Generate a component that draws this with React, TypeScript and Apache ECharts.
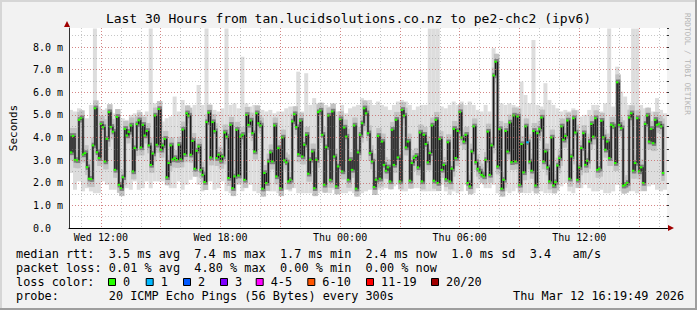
import React, { useEffect, useRef } from 'react';
import * as echarts from 'echarts';

// ---- time axis: 6-minute steps from Wed 10:24 to Thu 16:24 ----
const startMinute = 624; // minutes after Wed 00:00
const stepMinutes = 6;
const stepCount = 301;
const dayNames = ['Wed', 'Thu'];
const categories: string[] = Array.from({ length: stepCount }, (_, i) => String(startMinute + i * stepMinutes));

// ---- median rtt (ms), one value per 6-minute step ----
const medianRtt: number[] = [
  4.07, 3.34, 4.07, 3.01, 2.99, 4.78, 4.85, 3.25, 3.31, 2.69,
  2.18, 2.16, 3.65, 5.29, 3.35, 3.09, 4.60, 4.46, 2.94, 3.94,
  5.12, 4.47, 4.26, 2.57, 4.91, 1.91, 1.76, 2.24, 4.38, 4.09,
  4.25, 4.53, 2.50, 3.53, 4.59, 4.76, 3.56, 4.56, 4.09, 4.29,
  3.65, 2.79, 3.29, 4.97, 3.68, 5.26, 3.46, 3.65, 3.94, 2.24,
  2.87, 3.65, 3.03, 3.09, 3.01, 3.68, 3.03, 4.35, 3.26, 5.07,
  4.97, 3.24, 3.85, 2.62, 3.41, 3.60, 2.57, 2.35, 2.03, 4.68,
  5.10, 3.12, 4.68, 4.28, 3.09, 3.24,
  2.97, 3.16, 4.22, 4.04, 2.21, 4.56, 1.76, 2.28, 4.34, 2.32,
  4.04, 4.12, 2.13, 5.00, 4.56, 4.75, 4.19, 3.38, 5.07, 4.63,
  4.53, 1.74, 2.43, 1.99, 2.94, 3.34, 2.94, 4.53, 2.28, 3.53,
  1.76, 4.00, 2.99, 2.90, 2.06, 2.13, 4.71, 5.03, 4.46, 3.26,
  4.74, 3.16, 3.68, 4.12, 2.40, 3.01, 3.38, 1.76, 3.01, 5.12,
  5.19, 4.12, 1.91, 3.57, 4.97, 2.13, 5.15, 3.16, 1.84, 2.72,
  4.81, 2.50, 4.44, 4.04, 2.13, 3.01, 2.57, 4.53, 1.74, 3.34,
  4.12, 4.63, 5.29, 5.07, 4.19,
  3.31, 2.94, 1.81, 2.13, 4.07, 2.18, 3.82, 2.79, 2.53, 2.68,
  2.06, 4.34, 2.79, 4.78, 3.12, 2.06, 5.22, 4.97, 3.56, 3.82,
  2.09, 2.87, 3.09, 3.19, 2.68, 4.22, 2.06, 4.12, 3.71, 2.90,
  3.31, 4.53, 2.09, 4.78, 1.99, 3.93, 2.57, 2.79, 2.16, 3.79,
  2.06, 2.62, 4.38, 3.09, 4.29, 5.12, 4.00, 3.82, 4.12, 1.99,
  1.84, 3.38, 4.49, 2.91, 2.62, 2.50, 2.35, 2.28, 3.01, 4.26,
  2.35, 3.65, 6.74, 7.35, 2.72, 4.37, 1.74, 2.13, 4.29, 3.38,
  4.66, 2.91, 4.97, 2.94, 4.93,
  1.91, 3.71, 2.46, 4.49, 3.79, 2.94, 2.53, 4.29, 1.88, 4.19,
  4.38, 4.88, 2.94, 3.38, 2.68, 2.06, 4.00, 1.88, 2.03, 2.76,
  3.09, 4.49, 3.90, 4.07, 4.75, 2.18, 3.16, 4.85, 4.22, 2.13,
  2.68, 3.53, 4.19, 2.79, 2.97, 3.82, 4.60, 4.04, 4.85, 2.57,
  2.62, 4.74, 4.01, 3.46, 3.82, 3.09, 4.56, 4.49, 2.87, 6.44,
  4.56, 4.41, 1.87, 1.91, 1.99, 4.88, 5.07, 2.53, 2.87, 4.85,
  2.50, 2.68, 1.99, 4.60, 4.97, 3.82, 4.38, 3.75, 4.78, 4.56,
  4.60, 4.49, 2.43,
];

// steps where 1 of 20 pings was lost
const lossOneSteps: number[] = [230];

// ---- smoke extent (ms), one sample per 2 steps ----
const smokeStepsPerSample = 2;
const smokeHi: number[] = [
  5.22, 5.15, 5.29, 5.00, 4.85, 5.44, 8.82, 5.37, 5.22, 5.29,
  5.15, 5.07, 5.00, 4.85, 4.78, 5.00, 5.07, 5.22, 5.00, 5.15,
  8.82, 5.51, 5.00, 4.71, 4.85, 4.93, 5.81, 5.15, 5.66, 5.29,
  5.22, 5.44, 6.32, 5.44, 8.82, 5.44, 5.22, 5.15,
  5.29, 8.82, 5.44, 5.51, 5.29, 7.57, 5.51, 5.37, 5.44, 5.29,
  5.22, 5.15, 5.22, 5.07, 5.15, 5.15, 5.29, 5.37, 5.22, 6.91,
  5.15, 6.84, 5.44, 5.74, 5.51, 5.37, 5.44, 5.37, 5.29, 5.15,
  5.44, 5.07, 5.29, 5.37, 5.44, 5.74, 5.51, 5.66,
  5.44, 5.59, 5.44, 5.37, 5.22, 5.44, 5.59, 5.66, 5.59, 5.44,
  5.22, 5.37, 5.44, 5.44, 8.82, 8.82, 8.82, 5.37, 5.29, 5.44,
  5.59, 5.44, 5.59, 5.44, 5.59, 5.44, 5.22, 5.15, 5.44, 5.15,
  7.94, 7.65, 5.51, 5.44, 5.51, 5.44, 5.37,
  6.47, 5.88, 5.51, 8.31, 5.44, 5.37, 6.40, 5.66, 5.44, 5.29,
  5.15, 5.22, 5.15, 5.29, 5.22, 4.93, 5.00, 5.22, 5.44, 5.44,
  5.15, 5.51, 8.82, 5.37, 7.13, 6.03, 5.81, 5.44, 8.82, 8.82,
  5.44, 5.29, 5.29, 5.15, 5.74, 5.22, 5.07,
];
const smokeLo: number[] = [
  2.43, 1.69, 2.06, 1.62, 1.76, 1.62, 1.54, 1.54, 2.06, 1.91,
  1.69, 1.69, 1.54, 1.69, 1.76, 1.69, 2.06, 1.69, 1.76, 2.06,
  1.76, 2.06, 2.06, 2.06, 1.91, 1.76, 1.76, 2.06, 1.69, 1.91,
  2.13, 2.28, 1.91, 1.62, 2.06, 2.06, 1.69, 1.76,
  2.06, 1.62, 1.54, 1.62, 1.91, 1.62, 1.76, 1.91, 1.62, 1.54,
  1.54, 1.76, 1.62, 1.62, 1.54, 1.69, 1.69, 1.62, 1.76, 1.54,
  1.54, 1.54, 1.54, 1.62, 1.54, 1.62, 1.62, 1.54, 1.69, 1.76,
  1.54, 1.54, 1.62, 1.54, 1.62, 1.54, 1.62, 1.69,
  1.76, 1.69, 1.69, 1.76, 1.76, 1.84, 1.91, 1.62, 1.62, 1.91,
  1.76, 1.76, 1.62, 1.62, 1.62, 1.62, 1.62, 1.91, 1.62, 1.47,
  1.62, 1.54, 1.62, 1.91, 1.62, 1.54, 1.76, 1.99, 1.76, 1.76,
  1.91, 1.54, 1.62, 1.62, 1.54, 1.62, 1.76,
  1.62, 1.54, 1.54, 1.62, 1.62, 1.62, 1.54, 1.54, 1.76, 1.62,
  1.84, 1.99, 1.62, 1.54, 1.76, 1.76, 1.91, 1.76, 1.62, 1.62,
  1.69, 1.54, 1.54, 1.62, 1.91, 1.62, 1.54, 1.62, 1.62, 1.54,
  1.62, 1.62, 1.84, 1.91, 1.69, 1.62, 1.69,
];

// ---- text ----
const titleText = 'Last 30 Hours from tan.lucidsolutions.co.nz to pe2-chc2 (ipv6)';
const rttStats = ['3.5 ms avg', '7.4 ms max', '1.7 ms min', '2.4 ms now', '1.0 ms sd', '3.4'];
const lossStats = ['0.01 % avg', '4.80 % max', '0.00 % min', '0.00 % now'];
const lossLabels = ['0', '1', '2', '3', '4-5', '6-10', '11-19', '20/20'];
const lossColors = ['#26ff00', '#00b8ff', '#0059ff', '#7e00ff', '#ff00ff', '#ff5500', '#ff0000', '#a10000'];
const probeText = '20 ICMP Echo Pings (56 Bytes) every 300s';
const stampText = 'Thu Mar 12 16:19:49 2026';
const watermark = 'RRDTOOL / TOBI OETIKER';

// ---- layout constants ----
const MONO = '"DejaVu Sans Mono", monospace';
const LEG_SIZE = 11.85;
const CH = LEG_SIZE * 0.6021;
const col = (c: number) => 16 + c * CH;
const rttCols = [13, 25, 37, 49, 61, 72];
const lossCols = [13, 25, 37, 49];
const lossLabelX = [123, 160.7, 198, 235, 270.7, 322.3, 381, 446];
const lineY = [254, 268, 282, 296];

const RED_GRID = 'rgba(222,80,80,0.55)';
const GRAY_GRID = 'rgba(130,130,130,0.45)';
const Y_MAX = 8.84;

const fmtTime = (v: string) => {
  const m = Number(v);
  const day = dayNames[Math.floor(m / 1440)];
  const h = Math.floor((m % 1440) / 60);
  const mi = m % 60;
  return `${day} ${String(h).padStart(2, '0')}:${String(mi).padStart(2, '0')}`;
};
const everyMinutes = (n: number) => (index: number) => (startMinute + index * stepMinutes) % n === 0;

function buildOption() {
  const medData = medianRtt.map((v, i) => [i, v, i > 0 ? medianRtt[i - 1] : v]);
  const smokeData = smokeHi.map((h, k) => [k * smokeStepsPerSample, smokeLo[k], h]);

  const band = (extra: number, width: number, color: string, z: number) => ({
    type: 'custom',
    z,
    clip: true,
    silent: true,
    data: medData,
    encode: { x: 0, y: 1 },
    renderItem: (params: any, api: any) => {
      const i = api.value(0);
      const v = api.value(1);
      const p = api.value(2);
      const top = api.coord([i, Math.max(v, p) + extra]);
      const bot = api.coord([i, Math.min(v, p) - extra]);
      return {
        type: 'rect',
        shape: { x: top[0] - width / 2, y: top[1], width, height: bot[1] - top[1] },
        style: { fill: color },
      };
    },
  });

  const graphics: any[] = [];
  // frame shading
  graphics.push({ type: 'rect', z: 0, shape: { x: 0, y: 0, width: 697, height: 2 }, style: { fill: '#d6d6d6' } });
  graphics.push({ type: 'rect', z: 0, shape: { x: 0, y: 0, width: 2, height: 310 }, style: { fill: '#d6d6d6' } });
  graphics.push({ type: 'rect', z: 0, shape: { x: 0, y: 308, width: 697, height: 2 }, style: { fill: '#9e9e9e' } });
  graphics.push({ type: 'rect', z: 0, shape: { x: 695, y: 0, width: 2, height: 310 }, style: { fill: '#9e9e9e' } });
  // axis arrows
  graphics.push({ type: 'polygon', z: 20, shape: { points: [[64, 27], [70, 27], [67, 21]] }, style: { fill: '#a00000' } });
  graphics.push({ type: 'polygon', z: 20, shape: { points: [[668, 225], [668, 231], [674, 228]] }, style: { fill: '#a00000' } });
  // watermark
  graphics.push({
    type: 'text', x: 687, y: 13, rotation: -Math.PI / 2, z: 5,
    style: { text: watermark, x: 0, y: 0, fill: '#b4b4b4', font: `7.7px ${MONO}`, align: 'left', verticalAlign: 'middle' },
  });
  const txt = (text: string, x: number, y: number) => ({
    type: 'text', z: 5,
    style: { text, x, y, fill: '#000', font: `${LEG_SIZE}px ${MONO}`, align: 'left', verticalAlign: 'middle' },
  });
  graphics.push(txt('median rtt:', col(0), lineY[0]));
  rttStats.forEach((s, j) => graphics.push(txt(s, col(rttCols[j]), lineY[0])));
  graphics.push(txt('am/s', col(78), lineY[0]));
  graphics.push(txt('packet loss:', col(0), lineY[1]));
  lossStats.forEach((s, j) => graphics.push(txt(s, col(lossCols[j]), lineY[1])));
  graphics.push(txt('loss color:', col(0), lineY[2]));
  lossLabels.forEach((s, j) => {
    graphics.push({
      type: 'rect', z: 5,
      shape: { x: lossLabelX[j] - 14.5, y: lineY[2] - 3.5, width: 7, height: 7 },
      style: { fill: lossColors[j], stroke: '#000', lineWidth: 1 },
    });
    graphics.push(txt(s, lossLabelX[j], lineY[2]));
  });
  graphics.push(txt('probe:', col(0), lineY[3]));
  graphics.push(txt(probeText, col(13), lineY[3]));
  graphics.push(txt(stampText, 513, lineY[3]));

  return {
    animation: false,
    backgroundColor: '#f2f2f2',
    title: {
      text: titleText,
      left: 'center',
      top: 10,
      padding: 0,
      textStyle: { fontFamily: MONO, fontSize: 13, fontWeight: 'normal', color: '#000', lineHeight: 16 },
    },
    grid: { left: 67, top: 28, width: 600, height: 200, show: true, backgroundColor: '#ffffff', borderWidth: 0 },
    xAxis: [
      {
        type: 'category', data: categories, boundaryGap: false, z: 4,
        axisLine: { show: true, lineStyle: { color: '#000', width: 1 } },
        axisTick: { show: false },
        axisLabel: { interval: everyMinutes(360), formatter: fmtTime, fontFamily: MONO, fontSize: 10, color: '#000', margin: 4 },
        splitLine: { show: true, interval: everyMinutes(180), lineStyle: { color: RED_GRID, type: [1, 2], width: 1 } },
      },
      {
        type: 'category', data: categories, boundaryGap: false, z: 3,
        axisLine: { show: false }, axisTick: { show: false }, axisLabel: { show: false },
        splitLine: { show: true, interval: everyMinutes(60), lineStyle: { color: GRAY_GRID, type: [1, 2], width: 1 } },
      },
    ],
    yAxis: [
      {
        type: 'value', min: 0, max: Y_MAX, interval: 1, z: 4,
        axisLine: { show: true, lineStyle: { color: '#333', width: 1 } },
        axisTick: { show: false },
        axisLabel: {
          formatter: (v: number) => (v === 0 ? '0.0' : `${v.toFixed(1)} m`),
          align: 'left', margin: 36, fontFamily: MONO, fontSize: 10, color: '#000', showMaxLabel: false,
        },
        splitLine: { show: true, showMinLine: false, showMaxLine: false, lineStyle: { color: RED_GRID, type: [1, 2], width: 1 } },
        name: 'Seconds', nameLocation: 'middle', nameRotate: 90, nameGap: 50,
        nameTextStyle: { fontFamily: MONO, fontSize: 11, color: '#000' },
      },
      {
        type: 'value', min: 0, max: Y_MAX, interval: 0.5, z: 3,
        axisLine: { show: false },
        axisTick: { show: true, length: 2, lineStyle: { color: '#333' } },
        axisLabel: { show: false },
        splitLine: { show: true, showMinLine: false, showMaxLine: false, lineStyle: { color: GRAY_GRID, type: [1, 2], width: 1 } },
      },
    ],
    series: [
      {
        type: 'custom', z: 1, clip: true, silent: true,
        data: smokeData,
        encode: { x: 0, y: [1, 2] },
        renderItem: (params: any, api: any) => {
          const k = api.value(0);
          const p0 = api.coord([k, api.value(2)]);
          const p1 = api.coord([k + smokeStepsPerSample, api.value(1)]);
          return {
            type: 'rect',
            shape: { x: p0[0], y: p0[1], width: p1[0] - p0[0], height: p1[1] - p0[1] },
            style: { fill: '#dddddd' },
          };
        },
      },
      band(0.35, 3.5, '#c2c2c2', 1),
      band(0.12, 2.4, '#7c7c7c', 1),
      band(0, 1.3, '#1c1c1c', 1),
      {
        type: 'custom', z: 2, clip: true, silent: true,
        data: medData,
        encode: { x: 0, y: 1 },
        renderItem: (params: any, api: any) => {
          const i = api.value(0);
          const c = api.coord([i, api.value(1)]);
          const color = lossOneSteps.includes(i) ? lossColors[1] : lossColors[0];
          return { type: 'rect', shape: { x: c[0] - 1.25, y: c[1] - 1, width: 2.5, height: 2 }, style: { fill: color } };
        },
      },
    ],
    graphic: graphics,
  };
}

export default function App() {
  const ref = useRef<HTMLDivElement>(null);
  useEffect(() => {
    if (!ref.current) return;
    const chart = echarts.init(ref.current, null, { renderer: 'svg' });
    chart.setOption(buildOption() as any);
    return () => chart.dispose();
  }, []);
  return <div ref={ref} style={{ position: 'fixed', left: 0, top: 0, width: 697, height: 310 }} />;
}
